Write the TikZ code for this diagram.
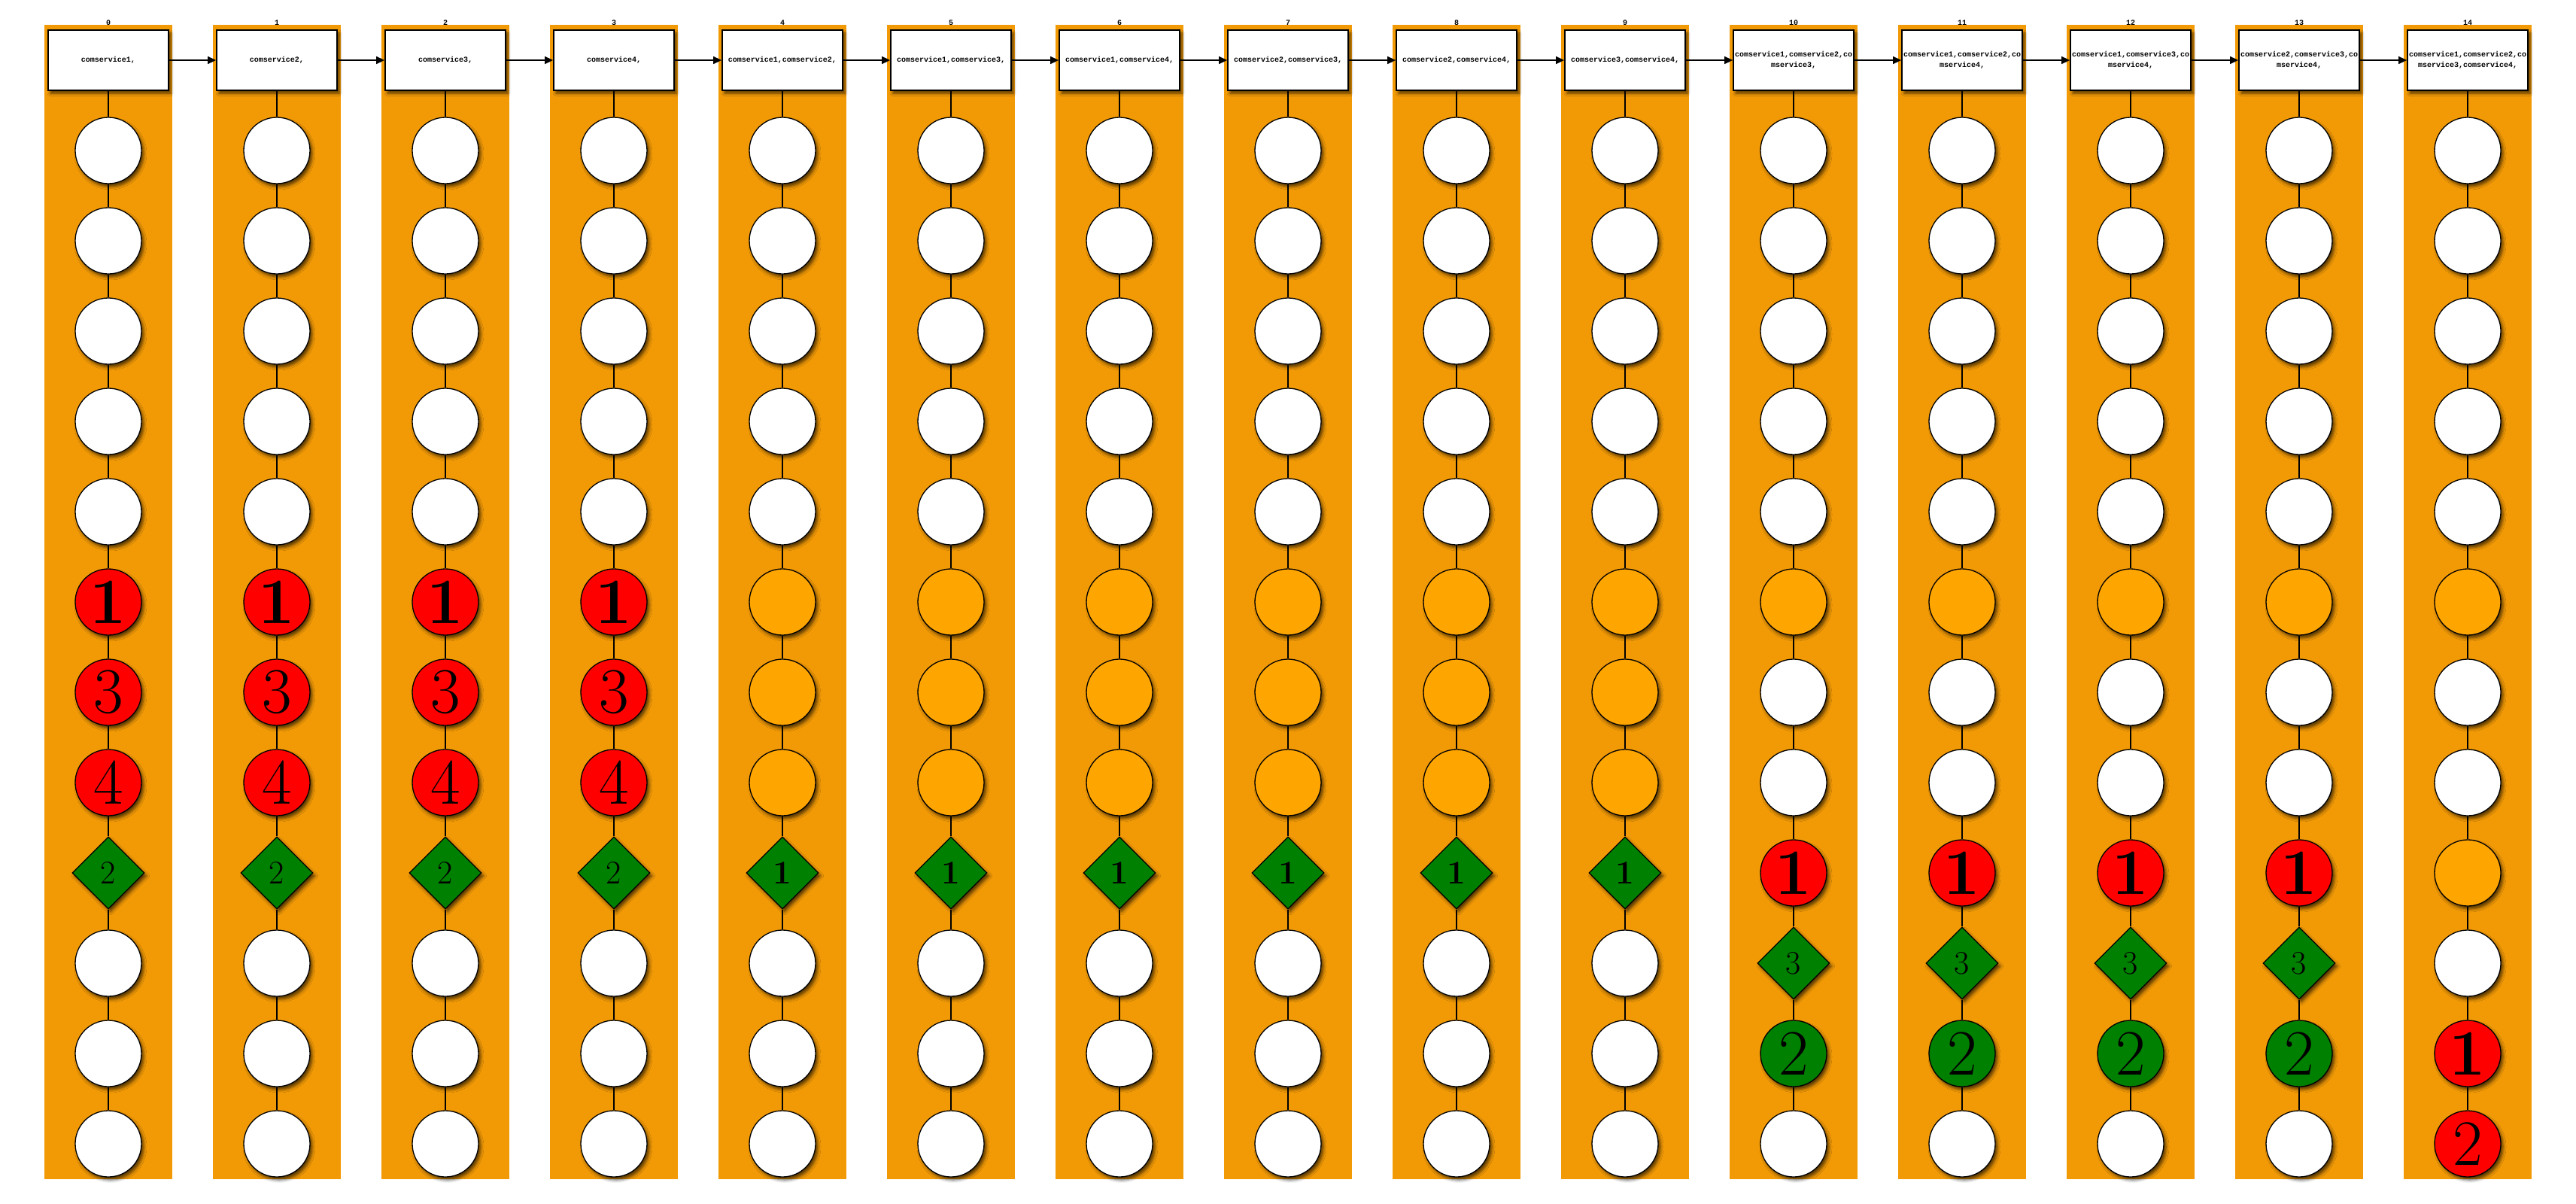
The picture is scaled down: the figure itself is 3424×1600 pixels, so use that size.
\documentclass[tikz,border=0pt]{standalone}
\usepackage{fontspec}
\newfontfamily\hdrfont{Liberation Mono}
\usetikzlibrary{shapes.geometric,arrows.meta,shadows.blur}
\definecolor{bandcol}{RGB}{242,154,6}
\definecolor{nodeorange}{RGB}{255,165,0}
\definecolor{nodegreen}{RGB}{0,128,0}
\definecolor{nodered}{RGB}{255,0,0}
\newcommand\bignum{\fontsize{86}{86}\selectfont}
\newcommand\midnum{\fontsize{44}{44}\selectfont}
\newcommand\mknode[4]{\node[#3] (c#1r#2) at ({144+224*#1},{200+120*#2}) {#4};}
\tikzset{
 sh/.style={blur shadow={shadow xshift=3pt,shadow yshift=-4pt,shadow blur radius=4pt,shadow opacity=65}},
 circ/.style={circle,draw,line width=1.3pt,minimum size=88pt,inner sep=0pt,sh},
 wn/.style={circ,fill=white},
 on/.style={circ,fill=nodeorange},
 rn/.style={circ,fill=nodered,font=\bignum},
 rb/.style={circ,fill=nodered,font=\bignum\bfseries},
 gn/.style={circ,fill=nodegreen,font=\bignum},
 dn/.style={diamond,draw,line width=1.3pt,fill=nodegreen,minimum width=96pt,minimum height=96pt,inner sep=0pt,sh,font=\midnum},
 db/.style={dn,font=\midnum\bfseries},
 hdr/.style={rectangle,draw,line width=1.8pt,fill=white,minimum width=160pt,minimum height=80pt,inner sep=0pt,align=center,font=\hdrfont\bfseries\fontsize{10}{13.5}\selectfont,sh},
 lbl/.style={font=\hdrfont\bfseries\fontsize{10}{10}\selectfont,inner sep=0pt,anchor=base},
 link/.style={line width=1.2pt},
 arr/.style={line width=1.5pt,-{Triangle[length=11pt,width=10pt]}}
}
\begin{document}
\begin{tikzpicture}[x=1pt,y=-1pt]
\useasboundingbox (0,0) rectangle (3424,1600);
\def\colA{wn/,wn/,wn/,wn/,wn/,rb/1,rn/3,rn/4,dn/2,wn/,wn/,wn/}
\def\colB{wn/,wn/,wn/,wn/,wn/,on/,on/,on/,db/1,wn/,wn/,wn/}
\def\colC{wn/,wn/,wn/,wn/,wn/,on/,wn/,wn/,rb/1,dn/3,gn/2,wn/}
\def\colD{wn/,wn/,wn/,wn/,wn/,on/,wn/,wn/,on/,wn/,rb/1,rn/2}
% bands
\foreach \i in {0,...,14}
  \fill[bandcol] ({144+224*\i-85},33) rectangle ({144+224*\i+85},1567);
% headers
\foreach \i/\t in {0/{comservice1,},1/{comservice2,},2/{comservice3,},3/{comservice4,},
  4/{comservice1,comservice2,},5/{comservice1,comservice3,},6/{comservice1,comservice4,},
  7/{comservice2,comservice3,},8/{comservice2,comservice4,},9/{comservice3,comservice4,},
  10/{comservice1,comservice2,co\\mservice3,},11/{comservice1,comservice2,co\\mservice4,},
  12/{comservice1,comservice3,co\\mservice4,},13/{comservice2,comservice3,co\\mservice4,},
  14/{comservice1,comservice2,co\\mservice3,comservice4,}}{
  \node[hdr] (h\i) at ({144+224*\i},80) {\t};
  \node[lbl] (l\i) at ({144+224*\i},34) {\i};
}
% column nodes
\foreach \i in {0,...,3}{\foreach \s/\t [count=\k from 0] in \colA {\edef\tmp{\noexpand\mknode{\i}{\k}{\s}{\t}}\tmp}}
\foreach \i in {4,...,9}{\foreach \s/\t [count=\k from 0] in \colB {\edef\tmp{\noexpand\mknode{\i}{\k}{\s}{\t}}\tmp}}
\foreach \i in {10,...,13}{\foreach \s/\t [count=\k from 0] in \colC {\edef\tmp{\noexpand\mknode{\i}{\k}{\s}{\t}}\tmp}}
\foreach \i in {14}{\foreach \s/\t [count=\k from 0] in \colD {\edef\tmp{\noexpand\mknode{\i}{\k}{\s}{\t}}\tmp}}
% links
\foreach \i in {0,...,14}{
  \draw[link] (h\i) -- (c\i r0);
  \foreach \k in {0,...,10}{
    \pgfmathtruncatemacro\kk{\k+1}
    \draw[link] (c\i r\k) -- (c\i r\kk);
  }
}
\foreach \i in {0,...,13}{
  \pgfmathtruncatemacro\j{\i+1}
  \draw[arr] (h\i) -- (h\j);
}
\end{tikzpicture}
\end{document}
